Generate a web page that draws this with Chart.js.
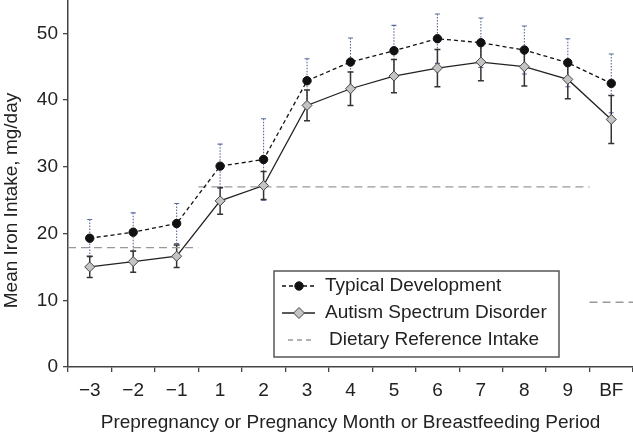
<!DOCTYPE html>
<html><head><meta charset="utf-8">
<script src="https://cdn.jsdelivr.net/npm/chart.js@4"></script>
<style>html,body{margin:0;padding:0;background:#fff}canvas{display:block}</style>
</head><body>
<canvas id="c" width="633" height="434"></canvas>
<script>
const categories = ['\u22123','\u22122','\u22121','1','2','3','4','5','6','7','8','9','BF'];
const tdMean  = [19.3, 20.2, 21.5, 30.1, 31.1, 42.9, 45.7, 47.4, 49.2, 48.6, 47.5, 45.6, 42.5];
const tdErr   = [2.8, 2.9, 3.0, 3.3, 6.1, 3.3, 3.6, 3.8, 3.7, 3.7, 3.6, 3.6, 4.4];
const asdMean = [15.0, 15.8, 16.6, 24.9, 27.2, 39.2, 41.7, 43.6, 44.8, 45.7, 45.0, 43.1, 37.1];
const asdErr  = [1.6, 1.6, 1.7, 2.0, 2.1, 2.3, 2.5, 2.5, 2.8, 2.8, 2.9, 2.9, 3.6];
const driFirst = ['\u22123', '1', 'BF'];
const driLast  = ['\u22121', '9', 'BF'];
const driValue = [17.9, 27, 9.7];
const yTicks = [0, 10, 20, 30, 40, 50];
const seriesLabels = ['Typical Development', 'Autism Spectrum Disorder', 'Dietary Reference Intake'];

const FONT = "'Liberation Sans', Arial, Helvetica, sans-serif";
Chart.defaults.font.family = FONT;
Chart.defaults.font.size = 19;
Chart.defaults.color = '#222';

// DRI points on a hidden linear axis aligned with the category axis
const driData = [];
driValue.forEach((v, i) => {
  const a = categories.indexOf(driFirst[i]) - 0.5;
  const b = categories.indexOf(driLast[i]) + 0.5;
  driData.push({x: a, y: v}, {x: b, y: v});
  if (i < driValue.length - 1) driData.push({x: b, y: null});
});

const errorBars = {
  id: 'errorBars',
  beforeDatasetsDraw(chart) {
    const ctx = chart.ctx, y = chart.scales.y;
    const specs = [
      {ds: 0, mean: tdMean, err: tdErr, color: '#5a6a9c', width: 1.1, dash: [1.5, 1.5], cap: 2.5},
      {ds: 1, mean: asdMean, err: asdErr, color: '#333', width: 1.5, dash: [], cap: 3}
    ];
    specs.forEach(s => {
      const meta = chart.getDatasetMeta(s.ds);
      ctx.save();
      ctx.strokeStyle = s.color;
      ctx.lineWidth = s.width;
      s.mean.forEach((m, i) => {
        const x = meta.data[i].x;
        const top = y.getPixelForValue(m + s.err[i]);
        const bot = y.getPixelForValue(m - s.err[i]);
        ctx.setLineDash(s.dash);
        ctx.beginPath(); ctx.moveTo(x, top); ctx.lineTo(x, bot); ctx.stroke();
        ctx.setLineDash([]);
        ctx.beginPath();
        ctx.moveTo(x - s.cap, top); ctx.lineTo(x + s.cap, top);
        ctx.moveTo(x - s.cap, bot); ctx.lineTo(x + s.cap, bot);
        ctx.stroke();
      });
      ctx.restore();
    });
  }
};

const boxLegend = {
  id: 'boxLegend',
  afterDraw(chart) {
    const ctx = chart.ctx;
    const bx = 274, by = 271, bw = 285, bh = 86;
    ctx.save();
    ctx.strokeStyle = '#555'; ctx.lineWidth = 1.5;
    ctx.strokeRect(bx, by, bw, bh);
    const rows = [286, 313, 340];
    const ds = chart.data.datasets;
    ctx.font = '19px ' + FONT;
    ctx.textBaseline = 'middle';
    ctx.textAlign = 'left';
    rows.forEach((ry, i) => {
      const d = ds[i];
      ctx.strokeStyle = d.borderColor;
      ctx.lineWidth = d.borderWidth;
      ctx.setLineDash(i === 2 ? [5, 4] : (d.borderDash || []));
      ctx.beginPath();
      if (i === 2) { ctx.moveTo(288, ry); ctx.lineTo(314, ry); }
      else { ctx.moveTo(282, ry); ctx.lineTo(315, ry); }
      ctx.stroke();
      ctx.setLineDash([]);
      if (i < 2) {
        ctx.fillStyle = d.pointBackgroundColor; ctx.strokeStyle = d.pointBorderColor; ctx.lineWidth = d.pointBorderWidth;
        ctx.beginPath();
        if (d.pointStyle === 'circle') { ctx.arc(299, ry, d.pointRadius, 0, Math.PI * 2); }
        else { const r = d.pointRadius + 0.5; ctx.moveTo(299, ry - r); ctx.lineTo(299 + r, ry); ctx.lineTo(299, ry + r); ctx.lineTo(299 - r, ry); ctx.closePath(); }
        ctx.fill(); ctx.stroke();
      }
      ctx.fillStyle = '#222';
      ctx.fillText(d.label, i === 2 ? 329 : 325, ry);
    });
    ctx.restore();
  }
};

const shiftYTitle = {
  id: 'shiftYTitle',
  afterLayout(chart) {
    const s = chart.scales.y;
    if (s && !s._shifted) {
      const orig = s.drawTitle;
      s.drawTitle = function () {
        const ctx = this.ctx; ctx.save(); ctx.translate(0, 17); orig.apply(this, arguments); ctx.restore();
      };
      s._shifted = true;
    }
  }
};

new Chart(document.getElementById('c'), {
  type: 'line',
  data: {
    labels: categories,
    datasets: [
      {label: seriesLabels[0], data: tdMean, borderColor: '#111', borderWidth: 1.3, borderDash: [4, 3],
       pointStyle: 'circle', pointRadius: 4.2, pointBackgroundColor: '#111', pointBorderColor: '#111', pointBorderWidth: 1,
       tension: 0, xAxisID: 'x', yAxisID: 'y'},
      {label: seriesLabels[1], data: asdMean, borderColor: '#222', borderWidth: 1.3, borderDash: [],
       pointStyle: 'rectRot', pointRadius: 5, pointBackgroundColor: '#c4c4c4', pointBorderColor: '#444', pointBorderWidth: 1,
       tension: 0, xAxisID: 'x', yAxisID: 'y'},
      {label: seriesLabels[2], data: driData, borderColor: '#999', borderWidth: 1.3, borderDash: [8, 5],
       pointRadius: 0, spanGaps: false, xAxisID: 'x2', yAxisID: 'y', tension: 0}
    ]
  },
  options: {
    responsive: false,
    animation: false,
    events: [],
    layout: {padding: 0, autoPadding: false},
    plugins: {legend: {display: false}, tooltip: {enabled: false}},
    scales: {
      x: {
        type: 'category', offset: true, position: 'bottom',
        grid: {offset: true, drawOnChartArea: false, tickLength: 5, color: '#444', lineWidth: 1.3},
        border: {color: '#444', width: 1.5},
        ticks: {color: '#222', padding: 7, maxRotation: 0, autoSkip: false, font: {size: 19}},
        title: {display: true, text: 'Prepregnancy or Pregnancy Month or Breastfeeding Period', color: '#222', font: {size: 19}, padding: 0},
        afterFit: s => { s.height = 67; s.paddingLeft = 0; s.paddingRight = 0; }
      },
      x2: {type: 'linear', display: false, min: -0.5, max: 12.5},
      y: {
        min: 0, max: 55,
        afterBuildTicks: s => { s.ticks = yTicks.map(v => ({value: v})); },
        grid: {drawOnChartArea: false, tickLength: 5, color: '#444', lineWidth: 1.3},
        border: {color: '#444', width: 1.5},
        ticks: {color: '#222', padding: 5, font: {size: 19}},
        title: {display: true, text: 'Mean Iron Intake, mg/day', color: '#222', font: {size: 19}, padding: 0},
        afterFit: s => { s.width = 68; s.paddingTop = 0; s.paddingBottom = 0; }
      }
    }
  },
  plugins: [errorBars, boxLegend, shiftYTitle]
});
</script>
</body></html>
